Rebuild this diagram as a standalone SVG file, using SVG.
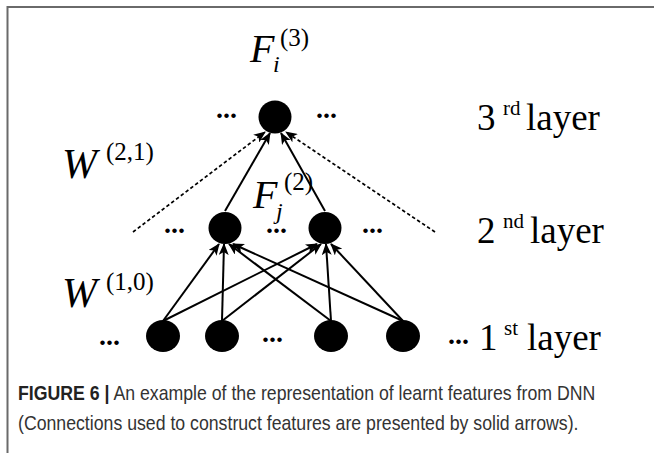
<svg xmlns="http://www.w3.org/2000/svg" width="654" height="453" viewBox="0 0 654 453">
<style>
.serif{font-family:"Liberation Serif","Times New Roman",serif;fill:#000}
.it{font-style:italic}
.up{font-style:normal}
.dots{font-family:"Liberation Serif",serif;font-weight:bold;font-size:28px;fill:#000}
.cap{font-family:"Liberation Sans",Arial,sans-serif;font-size:20px;fill:#333}
.node{fill:#000}
.edge{stroke:#000;stroke-width:2;fill:none}
.dash{stroke:#000;stroke-width:1.7;stroke-dasharray:3.5 2.5;fill:none}
</style>
<defs>
<marker id="ah" markerUnits="userSpaceOnUse" markerWidth="12" markerHeight="10" refX="11" refY="5" orient="auto">
<path d="M0,0 L12,5 L0,10 L3,5 z" fill="#000"/>
</marker>
</defs>
<rect width="654" height="453" fill="#fff"/>
<path d="M7.5,453 V7 H654" stroke="#6a6a6a" stroke-width="2" fill="none"/>

<g id="connectors">
<line class="dash" x1="133" y1="232" x2="265" y2="132" marker-end="url(#ah)"/>
<line class="dash" x1="435" y1="232" x2="286" y2="132" marker-end="url(#ah)"/>
<line class="edge" x1="225" y1="211" x2="270" y2="133" marker-end="url(#ah)"/>
<line class="edge" x1="325" y1="211" x2="281" y2="133" marker-end="url(#ah)"/>
<line class="edge" x1="163" y1="321" x2="219" y2="244" marker-end="url(#ah)"/>
<line class="edge" x1="222" y1="321" x2="224" y2="244" marker-end="url(#ah)"/>
<line class="edge" x1="331" y1="321" x2="229" y2="244" marker-end="url(#ah)"/>
<line class="edge" x1="403" y1="321" x2="233" y2="244" marker-end="url(#ah)"/>
<line class="edge" x1="163" y1="321" x2="317" y2="244" marker-end="url(#ah)"/>
<line class="edge" x1="222" y1="321" x2="321" y2="244" marker-end="url(#ah)"/>
<line class="edge" x1="331" y1="321" x2="326" y2="244" marker-end="url(#ah)"/>
<line class="edge" x1="403" y1="321" x2="331" y2="244" marker-end="url(#ah)"/>
</g>

<g id="n3"><ellipse class="node" cx="275" cy="117" rx="16.5" ry="16.5"/></g>
<g id="n2a"><ellipse class="node" cx="225" cy="228" rx="16.5" ry="16"/></g>
<g id="n2b"><ellipse class="node" cx="325" cy="228" rx="16.5" ry="16"/></g>
<g id="n1a"><ellipse class="node" cx="163" cy="336" rx="17" ry="16"/></g>
<g id="n1b"><ellipse class="node" cx="222" cy="336" rx="17" ry="16"/></g>
<g id="n1c"><ellipse class="node" cx="331" cy="336" rx="17" ry="16"/></g>
<g id="n1d"><ellipse class="node" cx="403" cy="336" rx="17" ry="16"/></g>

<g id="dots">
<text class="dots" x="216" y="118">...</text>
<text class="dots" x="316" y="118">...</text>
<text class="dots" x="164" y="233">...</text>
<text class="dots" x="266" y="233">...</text>
<text class="dots" x="362" y="233">...</text>
<text class="dots" x="99" y="345">...</text>
<text class="dots" x="262" y="342">...</text>
</g>

<g id="labels">
<text class="serif it" x="250" y="62" font-size="40">F<tspan x="273" y="72" font-size="24">i</tspan><tspan class="up" x="280" y="46" font-size="25">(3)</tspan></text>
<text class="serif it" x="253" y="208" font-size="40">F<tspan x="276" y="219" font-size="24">j</tspan><tspan class="up" x="284" y="190" font-size="25">(2)</tspan></text>
<text class="serif it" x="62" y="178" font-size="42">W<tspan class="up" x="106" y="160" font-size="25">(2,1)</tspan></text>
<text class="serif it" x="62" y="307" font-size="42">W<tspan class="up" x="106" y="290" font-size="25">(1,0)</tspan></text>
<text class="serif" y="130" font-size="37"><tspan x="477">3</tspan><tspan x="503" y="115" font-size="21">rd</tspan><tspan x="526" y="130">layer</tspan></text>
<text class="serif" y="243" font-size="37"><tspan x="477">2</tspan><tspan x="503" y="228" font-size="21">nd</tspan><tspan x="530" y="243">layer</tspan></text>
<text class="serif" y="350" font-size="37"><tspan x="448" y="344" class="dots">...</tspan><tspan x="479" y="350">1</tspan><tspan x="504" y="335" font-size="21">st</tspan><tspan x="527" y="350">layer</tspan></text>
</g>

<g id="caption" transform="translate(18,0) scale(0.885,1)">
<text class="cap" x="0" y="400"><tspan font-weight="bold" fill="#222">FIGURE 6 |</tspan> An example of the representation of learnt features from DNN</text>
<text class="cap" x="0" y="430">(Connections used to construct features are presented by solid arrows).</text>
</g>
</svg>
